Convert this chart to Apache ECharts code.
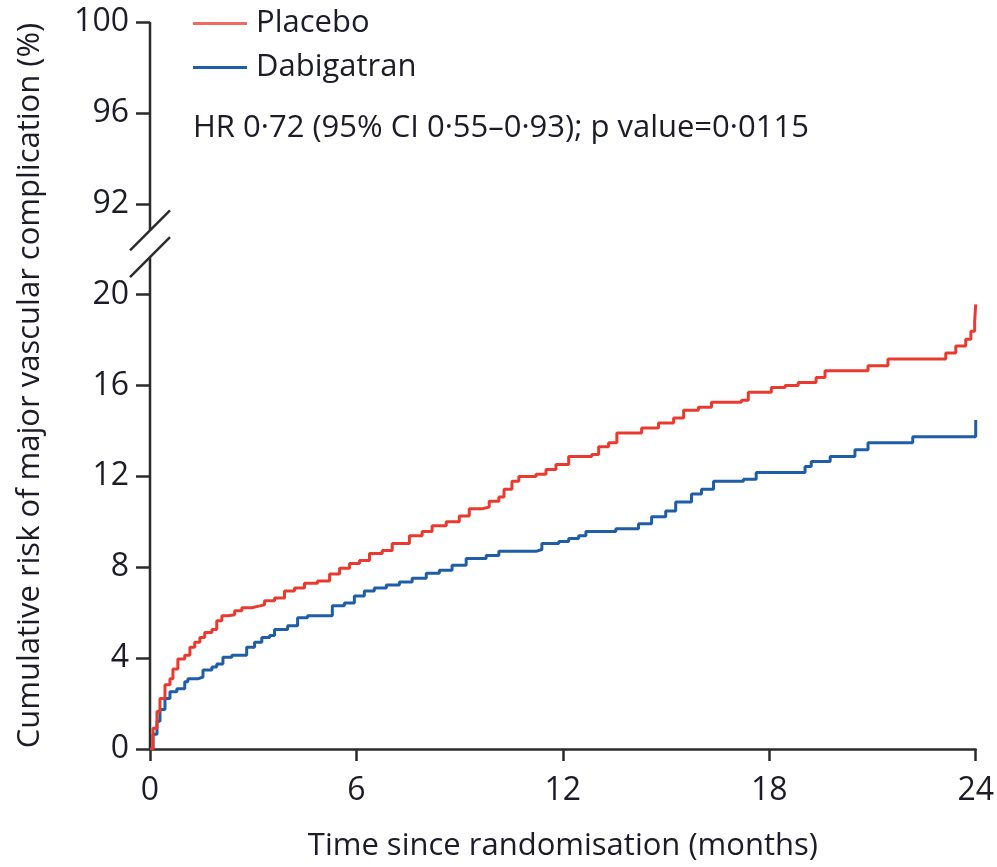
<!DOCTYPE html>
<html>
<head>
<meta charset="utf-8">
<script src="https://cdn.jsdelivr.net/npm/echarts@6/dist/echarts.min.js"></script>
<style>
  html, body { margin: 0; padding: 0; background: #fff; overflow: hidden; }
  #chart { width: 997px; height: 867px; }
</style>
</head>
<body>
<div id="chart"></div>
<script>
// Kaplan–Meier cumulative risk (%) by months since randomisation
const placeboTime = [0, 0.087, 0.203, 0.29, 0.435, 0.58, 0.667, 0.81, 1.01, 1.16, 1.30, 1.45, 1.59, 1.80, 1.94, 2.09, 2.26, 2.46, 2.67, 2.96, 3.19, 3.33, 3.62, 3.91, 4.20, 4.49, 4.87, 5.22, 5.51, 5.80, 6.09, 6.38, 6.75, 7.04, 7.54, 7.91, 8.20, 8.61, 8.99, 9.28, 9.65, 9.86, 10.14, 10.29, 10.52, 10.72, 11.22, 11.51, 11.80, 12.17, 12.84, 13.04, 13.33, 13.57, 14.29, 14.78, 15.22, 15.51, 15.94, 16.32, 17.19, 17.39, 18.06, 18.46, 18.84, 19.36, 19.62, 20.87, 21.45, 23.13, 23.42, 23.71, 23.86, 23.97, 24.0];
const placeboRisk = [0, 0.91, 1.65, 2.22, 2.83, 3.09, 3.52, 3.96, 4.13, 4.48, 4.70, 4.91, 5.13, 5.26, 5.65, 5.87, 5.91, 6.09, 6.22, 6.30, 6.35, 6.52, 6.65, 6.96, 7.09, 7.30, 7.39, 7.70, 7.96, 8.17, 8.30, 8.61, 8.74, 9.04, 9.39, 9.57, 9.83, 10.0, 10.26, 10.57, 10.65, 10.91, 11.09, 11.43, 11.78, 12.0, 12.09, 12.30, 12.52, 12.87, 12.96, 13.30, 13.48, 13.91, 14.13, 14.35, 14.57, 14.91, 15.04, 15.26, 15.35, 15.70, 15.91, 16.0, 16.13, 16.35, 16.65, 16.87, 17.17, 17.43, 17.74, 18.04, 18.39, 18.83, 19.57];

const dabigatranTime = [0, 0.087, 0.203, 0.29, 0.435, 0.58, 0.78, 1.01, 1.10, 1.39, 1.54, 1.80, 1.94, 2.12, 2.38, 2.81, 3.04, 3.25, 3.48, 3.62, 4.0, 4.29, 4.58, 5.30, 5.65, 5.94, 6.23, 6.52, 6.87, 7.25, 7.62, 8.03, 8.41, 8.78, 9.19, 9.77, 10.14, 11.22, 11.39, 11.88, 12.17, 12.46, 12.67, 13.54, 14.20, 14.58, 14.99, 15.28, 15.74, 16.03, 16.38, 17.25, 17.62, 19.04, 19.22, 19.77, 20.49, 20.87, 22.17, 24.0, 24.0];
const dabigatranRisk = [0, 0.65, 1.22, 1.74, 2.22, 2.52, 2.65, 2.96, 3.09, 3.17, 3.48, 3.61, 3.74, 4.04, 4.13, 4.48, 4.70, 4.91, 5.0, 5.26, 5.43, 5.78, 5.87, 6.30, 6.43, 6.74, 6.96, 7.09, 7.22, 7.35, 7.52, 7.74, 7.87, 8.09, 8.39, 8.52, 8.70, 8.78, 9.04, 9.13, 9.26, 9.39, 9.57, 9.70, 9.91, 10.22, 10.48, 10.87, 11.22, 11.43, 11.78, 11.87, 12.17, 12.43, 12.65, 12.87, 13.17, 13.48, 13.74, 13.83, 14.48];

// Y axis is broken: lower panel 0–20, upper panel 92–100 stacked on the same scale
const xTicks = [0, 6, 12, 18, 24];
const yLowerTicks = [0, 4, 8, 12, 16, 20];
const yUpperTicks = [92, 96, 100];
const UPPER_OFFSET = 92 - 24;     // 92 sits where 24 would be
const BREAK_HIGH = 22.83;          // axis line gap (axis units)
const BREAK_LOW = 21.65;

const hrText = 'HR 0·72 (95% CI 0·55–0·93); p value=0·0115';

const FONT = '"Open Sans", "Liberation Sans", sans-serif';
const TEXT = '#1c1c28';
const AXIS = '#2b2b2b';
const RED = '#ea3a30';
const BLUE = '#1f5ea6';

function pairs(t, v) { return t.map((x, i) => [x, v[i]]); }

const chart = echarts.init(document.getElementById('chart'), null, { renderer: 'canvas' });

chart.setOption({
  animation: false,
  backgroundColor: '#fff',
  textStyle: { fontFamily: FONT, color: TEXT },
  grid: { left: 150, right: 19, top: 22, bottom: 109, containLabel: false },
  legend: {
    orient: 'vertical',
    left: 188,
    top: 3,
    itemWidth: 54,
    itemHeight: 3,
    itemGap: 13,
    icon: 'rect',
    textStyle: { fontFamily: FONT, fontSize: 31, color: TEXT, padding: [0, 0, 0, 4] },
    data: [
      { name: 'Placebo', itemStyle: { color: '#f06a62' } },
      { name: 'Dabigatran', itemStyle: { color: BLUE } }
    ]
  },
  title: {
    text: hrText,
    left: 188,
    top: 108,
    textStyle: { fontFamily: FONT, fontSize: 31, fontWeight: 'normal', color: TEXT }
  },
  xAxis: {
    type: 'value',
    min: 0, max: 24, interval: 6,
    name: 'Time since randomisation (months)',
    nameLocation: 'middle',
    nameGap: 82,
    nameTextStyle: { fontFamily: FONT, fontSize: 31, color: TEXT },
    axisLine: { show: true, lineStyle: { color: AXIS, width: 2.5 } },
    axisTick: { show: true, length: 12, lineStyle: { color: AXIS, width: 2.5 } },
    axisLabel: {
      margin: 26, fontFamily: FONT, fontSize: 32, color: TEXT,
      formatter: v => xTicks.includes(v) ? String(v) : ''
    },
    splitLine: { show: false }
  },
  yAxis: {
    type: 'value',
    min: 0, max: 32, interval: 4,
    name: 'Cumulative risk of major vascular complication (%)',
    nameLocation: 'middle',
    nameGap: 104,
    nameTextStyle: { fontFamily: FONT, fontSize: 31, color: TEXT },
    axisLine: { show: false },
    axisTick: { show: true, length: 14, lineStyle: { color: AXIS, width: 2.5 } },
    axisLabel: {
      margin: 21, fontFamily: FONT, fontSize: 32, color: TEXT,
      formatter: v => {
        if (yLowerTicks.includes(v)) return String(v);
        const u = v + UPPER_OFFSET;
        return yUpperTicks.includes(u) ? String(u) : '';
      }
    },
    splitLine: { show: false }
  },
  series: [
    {
      name: 'Placebo', type: 'line', step: 'end', showSymbol: false,
      lineStyle: { color: RED, width: 3 }, itemStyle: { color: RED },
      data: pairs(placeboTime, placeboRisk), z: 3
    },
    {
      name: 'Dabigatran', type: 'line', step: 'end', showSymbol: false,
      lineStyle: { color: BLUE, width: 3 }, itemStyle: { color: BLUE },
      data: pairs(dabigatranTime, dabigatranRisk), z: 2
    }
  ]
});

// Broken y-axis line with double-slash marks, positioned through the axis scale
function px(x, y) { return chart.convertToPixel({ gridIndex: 0 }, [x, y]); }
const pTop = px(0, 32), pHi = px(0, BREAK_HIGH), pLo = px(0, BREAK_LOW), pBottom = px(0, 0);
const s = 20;
const axisStyle = { stroke: AXIS, lineWidth: 2.5 };
chart.setOption({
  graphic: [
    { type: 'line', shape: { x1: pTop[0], y1: pTop[1], x2: pHi[0], y2: pHi[1] }, style: axisStyle },
    { type: 'line', shape: { x1: pLo[0], y1: pLo[1], x2: pBottom[0], y2: pBottom[1] }, style: axisStyle },
    { type: 'line', shape: { x1: pHi[0] - s, y1: pHi[1] + s, x2: pHi[0] + s, y2: pHi[1] - s }, style: axisStyle },
    { type: 'line', shape: { x1: pLo[0] - s, y1: pLo[1] + s, x2: pLo[0] + s, y2: pLo[1] - s }, style: axisStyle }
  ]
});
</script>
</body>
</html>
